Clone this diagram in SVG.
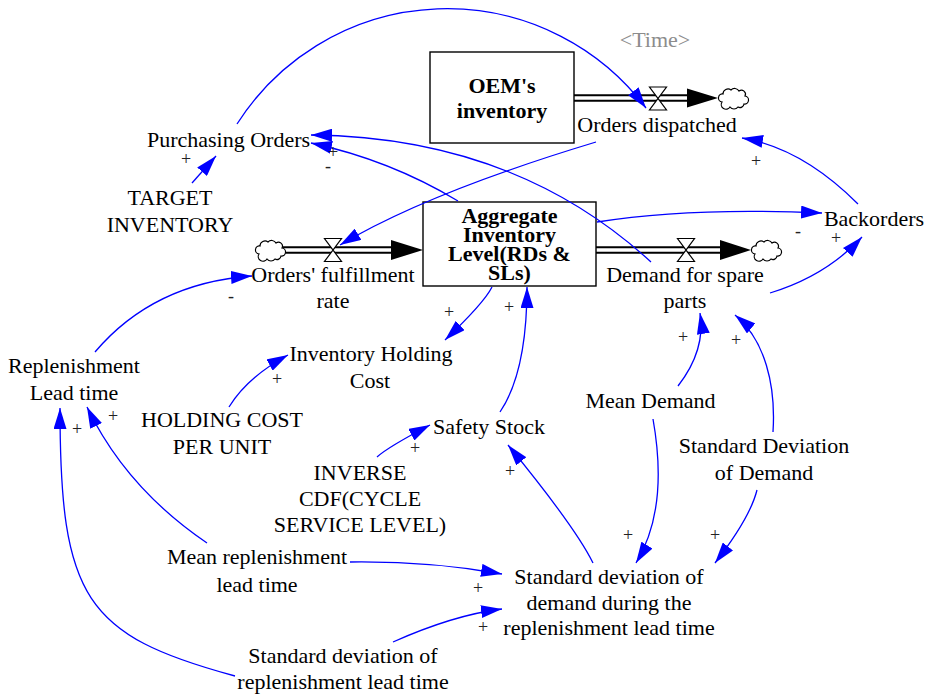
<svg xmlns="http://www.w3.org/2000/svg" width="928" height="695" viewBox="0 0 928 695" font-family="'Liberation Serif', 'Times New Roman', Times, serif">
<defs>
<style>
text{font-family:'Liberation Serif','Times New Roman',Times,serif;font-size:22px;fill:#000;text-anchor:middle}
.b{font-weight:bold;font-size:22px}
.s{font-size:18px;fill:#222}
.g{fill:#8c8c8c}
.lk{fill:none;stroke:#0000ff;stroke-width:1.3;marker-end:url(#ah)}
.box{fill:#fff;stroke:#000;stroke-width:1.4}
.po{fill:none;stroke:#000;stroke-width:7.5}
.pi{fill:none;stroke:#fff;stroke-width:3.6}
.valve{fill:#fff;stroke:#000;stroke-width:1.2}
.cloud{fill:#fff;stroke:#000;stroke-width:1.2}
.fh{fill:#000}
</style>
<marker id="ah" markerUnits="userSpaceOnUse" markerWidth="21" markerHeight="13" viewBox="0 0 21 13" refX="21" refY="6.5" orient="auto"><path d="M0,0 L21,6.5 L0,13 z" fill="#0000ff"/></marker>
<path id="cl" d="M4,14 a4,4 0 0 1 1,-8 a5,5 0 0 1 8,-4 a5,5 0 0 1 8,1 a4,4 0 0 1 6,5 a4,4 0 0 1 -1,8 a4,4 0 0 1 -6,3 a5,5 0 0 1 -8,0 a4,4 0 0 1 -8,-5 z"/>
</defs>
<rect width="928" height="695" fill="#fff"/>

<g id="pipes">
<path class="po" d="M574,98 H690"/><path class="pi" d="M574,98 H691"/>
<path class="fh" d="M687,88.5 L718,98 L687,107.5 z"/>
<path class="po" d="M283,250 H393"/><path class="pi" d="M283,250 H394"/>
<path class="fh" d="M391,240 L423,250 L391,260 z"/>
<path class="po" d="M596,250 H722"/><path class="pi" d="M596,250 H723"/>
<path class="fh" d="M720,240 L751,250 L720,260 z"/>
</g>

<g id="cloud-top"><use href="#cl" class="cloud" transform="translate(718,88)"/></g>
<g id="cloud-left"><use href="#cl" class="cloud" transform="translate(255,240)"/></g>
<g id="cloud-right"><use href="#cl" class="cloud" transform="translate(751,240)"/></g>

<g id="oem-inventory">
<rect class="box" x="430" y="52" width="144" height="91"/>
<text class="b" x="502" y="93">OEM's</text>
<text class="b" x="502" y="118">inventory</text>
</g>

<g id="aggregate-inventory">
<rect class="box" x="423" y="202" width="173" height="84"/>
<text class="b" x="509.5" y="223">Aggregate</text>
<text class="b" x="509.5" y="242">Inventory</text>
<text class="b" x="509.5" y="261">Level(RDs &amp;</text>
<text class="b" x="509.5" y="280">SLs)</text>
</g>

<g id="orders-dispatched">
<path class="valve" d="M649.5,87 H666.5 L649.5,110 H666.5 z"/>
<text x="657" y="132">Orders dispatched</text>
</g>

<g id="orders-fulfillment-rate">
<path class="valve" d="M324.5,238.5 H341.5 L324.5,261.5 H341.5 z"/>
<text x="333" y="282">Orders' fulfillment</text>
<text x="333" y="308">rate</text>
</g>

<g id="demand-spare-parts">
<path class="valve" d="M677.5,238.5 H694.5 L677.5,261.5 H694.5 z"/>
<text x="685" y="282">Demand for spare</text>
<text x="685" y="308">parts</text>
</g>

<g id="time"><text class="g" x="655" y="47">&lt;Time&gt;</text></g>
<g id="purchasing-orders"><text x="228.5" y="146.5">Purchasing Orders</text></g>
<g id="target-inventory"><text x="170" y="205">TARGET</text><text x="170" y="231.5">INVENTORY</text></g>
<g id="backorders"><text x="874" y="226">Backorders</text></g>
<g id="inventory-holding-cost"><text x="371" y="361">Inventory Holding</text><text x="370" y="388">Cost</text></g>
<g id="replenishment-lead-time"><text x="74" y="373">Replenishment</text><text x="74" y="400">Lead time</text></g>
<g id="holding-cost-per-unit"><text x="222" y="427">HOLDING COST</text><text x="222" y="454">PER UNIT</text></g>
<g id="safety-stock"><text x="489" y="434">Safety Stock</text></g>
<g id="inverse-cdf"><text x="360" y="480">INVERSE</text><text x="360" y="506">CDF(CYCLE</text><text x="360" y="532">SERVICE LEVEL)</text></g>
<g id="mean-demand"><text x="650.5" y="408">Mean Demand</text></g>
<g id="std-dev-demand"><text x="764" y="453">Standard Deviation</text><text x="764" y="480">of Demand</text></g>
<g id="mean-replenishment-lead-time"><text x="257" y="564">Mean replenishment</text><text x="257" y="591.5">lead time</text></g>
<g id="std-dev-demand-during-lead-time"><text x="609" y="583.5">Standard deviation of</text><text x="609" y="609.5">demand during the</text><text x="609" y="635">replenishment lead time</text></g>
<g id="std-dev-replenishment-lead-time"><text x="343" y="663">Standard deviation of</text><text x="343" y="689">replenishment lead time</text></g>

<g id="connectors">
<path class="lk" d="M237,124 A249,249 0 0 1 646,108"/>
<path class="lk" d="M192,183 L216,156"/>
<path class="lk" d="M651,262 Q515,137 311,135"/>
<path class="lk" d="M458,201 Q390,160 311,143"/>
<path class="lk" d="M596,142 Q427,193 340,245"/>
<path class="lk" d="M597,222 Q690,207 822,213"/>
<path class="lk" d="M858,204 Q802,148 742,138"/>
<path class="lk" d="M770,293 Q826,276 862,237"/>
<path class="lk" d="M95,352 Q153.5,283 252,276"/>
<path class="lk" d="M492,287 Q484,303 445,340"/>
<path class="lk" d="M500,412 Q527,372 527,287"/>
<path class="lk" d="M229,407 Q247.5,377 288,355"/>
<path class="lk" d="M377,457 Q388,447 430,425"/>
<path class="lk" d="M207,543 Q126,488 87,407"/>
<path class="lk" d="M235,676 C85,635.5 60,598 60,408"/>
<path class="lk" d="M350,562 Q430,561 502,574"/>
<path class="lk" d="M393,642 Q453.5,615 502,609"/>
<path class="lk" d="M593,563 Q575.6,527.5 508,445"/>
<path class="lk" d="M653,419 Q669,509 636,563"/>
<path class="lk" d="M757,490 Q750,518 715,563"/>
<path class="lk" d="M678,386 Q706,350 700,313"/>
<path class="lk" d="M773,432 C776,385 765,340 735,315"/>
<g id="polarities">
<text class="s" x="186" y="164.5">+</text>
<text class="s" x="333" y="157.5">+</text>
<text class="s" x="328" y="172">-</text>
<text class="s" x="756" y="166.5">+</text>
<text class="s" x="798" y="237">-</text>
<text class="s" x="836" y="243.5">+</text>
<text class="s" x="231" y="302">-</text>
<text class="s" x="449" y="317.5">+</text>
<text class="s" x="509" y="312.5">+</text>
<text class="s" x="277" y="384.5">+</text>
<text class="s" x="415" y="453.5">+</text>
<text class="s" x="113" y="421.5">+</text>
<text class="s" x="77" y="434.5">+</text>
<text class="s" x="478" y="593.5">+</text>
<text class="s" x="483" y="632.5">+</text>
<text class="s" x="510" y="476.5">+</text>
<text class="s" x="628" y="540.5">+</text>
<text class="s" x="715" y="540.5">+</text>
<text class="s" x="683" y="342.5">+</text>
<text class="s" x="736" y="345.5">+</text>
</g>
</g>
</svg>
